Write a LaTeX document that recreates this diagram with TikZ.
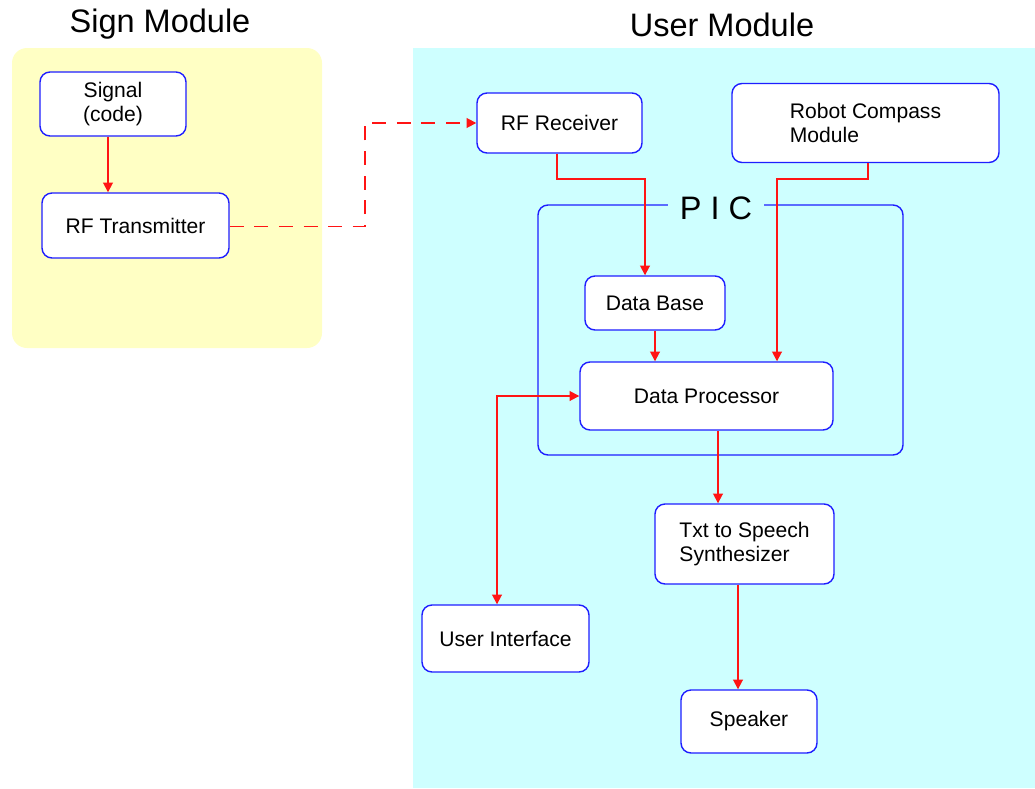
\documentclass[tikz,border=0pt]{standalone}
\usepackage{fontspec}
\setmainfont{Liberation Sans}
\usetikzlibrary{shapes.misc, arrows.meta, calc}

\definecolor{signyellow}{RGB}{255,255,196}
\definecolor{usercyan}{RGB}{206,255,255}
\definecolor{boxblue}{RGB}{30,30,255}
\definecolor{linered}{RGB}{255,20,20}

\begin{document}
\begin{tikzpicture}[node distance=2cm, every node/.style={font=\fontsize{12}{14}\selectfont}]
    \tikzstyle{module} = [rounded corners=0.3cm]
    \tikzstyle{block} = [rectangle, rounded corners=0.2cm, draw=boxblue, fill=white, line width=0.8pt, align=center]
    \tikzstyle{frame} = [rectangle, rounded corners=0.2cm, draw=boxblue, line width=0.8pt]
    \tikzstyle{title} = [font=\fontsize{18.5}{22}\selectfont]
    \tikzstyle{arrow} = [draw=linered, line width=1pt, ->, >={Triangle[length=5.5pt,width=5.5pt]}]
    \tikzstyle{dblarrow} = [draw=linered, line width=1pt, <->, >={Triangle[length=5.5pt,width=5.5pt]}]
    \tikzstyle{dasharrow} = [arrow, dash pattern=on 8pt off 6pt]
    \useasboundingbox (0,0) rectangle (20.7,-15.76);
    % Modules
    \fill [signyellow, module] (0.24,-0.96) rectangle (6.44,-6.96);
    \fill [usercyan] (8.26,-0.96) rectangle (20.7,-15.76);
    \node (signtitle) [title] at (3.2,-0.48) {Sign Module};
    \node (usertitle) [title] at (14.44,-0.5) {User Module};
    \node (pic) [frame, minimum width=7.3cm, minimum height=5cm] at (14.41,-6.6) {};
    \node (piclabel) [title, fill=usercyan, inner xsep=7pt, inner ysep=1pt] at (14.32,-4.16) {P I C};
    % Nodes
    \node (signal) [block, minimum width=2.92cm, minimum height=1.28cm] at (2.26,-2.08) {Signal\\(code)};
    \node (transmitter) [block, below of=signal, xshift=0.45cm, yshift=-0.43cm, minimum width=3.74cm, minimum height=1.3cm] {RF Transmitter};
    \node (receiver) [block, minimum width=3.3cm, minimum height=1.2cm] at (11.19,-2.46) {RF Receiver};
    \node (compass) [block, right of=receiver, xshift=4.12cm, align=left, minimum width=5.34cm, minimum height=1.58cm] {Robot Compass\\Module};
    \node (database) [block, below of=receiver, xshift=1.91cm, yshift=-1.6cm, minimum width=2.8cm, minimum height=1.08cm] {Data Base};
    \node (processor) [block, below of=database, xshift=1.03cm, yshift=0.14cm, minimum width=5.06cm, minimum height=1.36cm] {Data Processor};
    \node (synth) [block, below of=processor, xshift=0.76cm, yshift=-0.96cm, align=left, minimum width=3.58cm, minimum height=1.6cm] {Txt to Speech\\Synthesizer};
    \node (speaker) [block, below of=synth, xshift=0.09cm, yshift=-1.55cm, minimum width=2.72cm, minimum height=1.26cm] {Speaker};
    \node (ui) [block, left of=synth, xshift=-2.78cm, yshift=-1.89cm, minimum width=3.34cm, minimum height=1.34cm] {User Interface};
    % Arrows
    \coordinate (hop) at (7.3,0);
    \draw [arrow] ([xshift=-0.1cm]signal.south) -- ([xshift=-0.1cm]signal.south |- transmitter.north);
    \draw [dasharrow] ([yshift=-0.02cm]transmitter.east) -- ([yshift=-0.02cm]transmitter.east -| hop) |- (receiver.west);
    \draw [arrow] ([xshift=-0.05cm]receiver.south) -- ++(0,-0.5) -| ([xshift=-0.2cm]database.north);
    \draw [arrow] ([xshift=0.05cm]compass.south) -- ++(0,-0.32) -| ([xshift=1.41cm]processor.north);
    \draw [arrow] (database.south) -- (database.south |- processor.north);
    \draw [arrow] ([xshift=0.23cm]processor.south) -- ([xshift=0.23cm]processor.south |- synth.north);
    \draw [arrow] ([xshift=-0.13cm]synth.south) -- ([xshift=-0.13cm]synth.south |- speaker.north);
    \draw [dblarrow] ([xshift=-0.17cm]ui.north) |- (processor.west);
\end{tikzpicture}
\end{document}
